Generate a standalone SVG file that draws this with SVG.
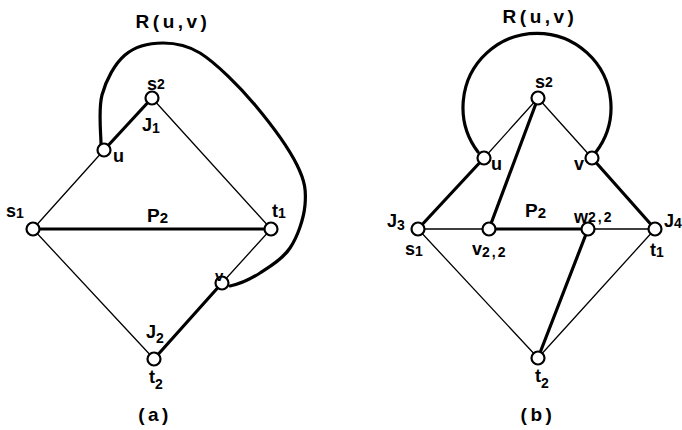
<svg xmlns="http://www.w3.org/2000/svg" width="682" height="430" viewBox="0 0 682 430">
<style>
.thin{stroke:#000;stroke-width:1.3;fill:none;stroke-linecap:round}
.thick{stroke:#000;stroke-width:3.2;fill:none;stroke-linecap:round}
.node{fill:#fff;stroke:#000;stroke-width:2.2}
text{font-family:"Liberation Sans",Arial,sans-serif;font-weight:bold;font-size:18px;fill:#000}
.big{font-size:19px;letter-spacing:3.5px}
.sub{font-size:14px}
.sp{letter-spacing:2px}
</style>
<rect width="682" height="430" fill="#fff"/>
<g id="connectors">
  <!-- (a) -->
  <line class="thin" x1="33" y1="229" x2="104" y2="150"/>
  <line class="thick" x1="104" y1="150" x2="152" y2="98"/>
  <line class="thin" x1="152" y1="98" x2="271" y2="229"/>
  <line class="thick" x1="33" y1="229" x2="271" y2="229"/>
  <line class="thin" x1="271" y1="229" x2="222" y2="283"/>
  <line class="thick" x1="222" y1="283" x2="154" y2="359"/>
  <line class="thin" x1="33" y1="229" x2="154" y2="359"/>
  <path class="thick" d="M101,145 C101.2,136.7 98,110 102,95 C106,80 114.8,63.7 125,55 C135.2,46.3 149.7,43 163,43 C176.3,43 187,45 200,53 C216,63 239.7,86.7 255,105 C270.3,123.3 288.7,148.3 297,165 C305.3,181.7 306.2,191.2 305,205 C303.8,218.8 297.5,236.7 290,248 C282.5,259.3 269.7,266.7 260,273 C250.3,279.3 240,284 230,286"/>
  <!-- (b) -->
  <line class="thin" x1="538" y1="98" x2="484" y2="158"/>
  <line class="thin" x1="538" y1="98" x2="592" y2="158"/>
  <line class="thick" x1="538" y1="98" x2="489" y2="229"/>
  <line class="thick" x1="418" y1="229" x2="484" y2="158"/>
  <line class="thick" x1="592" y1="158" x2="655" y2="229"/>
  <line class="thin" x1="418" y1="229" x2="489" y2="229"/>
  <line class="thick" x1="489" y1="229" x2="588" y2="229"/>
  <line class="thin" x1="588" y1="229" x2="655" y2="229"/>
  <line class="thick" x1="588" y1="229" x2="538" y2="358"/>
  <line class="thin" x1="418" y1="229" x2="538" y2="358"/>
  <line class="thin" x1="655" y1="229" x2="538" y2="358"/>
  <path class="thick" d="M478,152 A74,74 0 1 1 596,152"/>
</g>
<g id="a-s2"><circle class="node" cx="152" cy="98" r="6.5"/><text x="147" y="90">s<tspan class="sub" dy="-1">2</tspan></text></g>
<g id="a-u"><circle class="node" cx="104" cy="150" r="6.5"/><text x="113" y="162">u</text></g>
<g id="a-s1"><circle class="node" cx="33" cy="229" r="6.5"/><text x="6" y="217">s<tspan class="sub" dy="1">1</tspan></text></g>
<g id="a-t1"><circle class="node" cx="271" cy="229" r="6.5"/><text x="272" y="217">t<tspan class="sub" dy="1">1</tspan></text></g>
<g id="a-v"><circle class="node" cx="222" cy="283" r="6.5"/><text x="215" y="281" style="font-size:15px">v</text></g>
<g id="a-t2"><circle class="node" cx="154" cy="359" r="6.5"/><text x="149" y="383">t<tspan class="sub" dy="6">2</tspan></text></g>
<text x="142" y="131">J<tspan class="sub" dy="2">1</tspan></text>
<text x="146" y="338">J<tspan class="sub" dy="5">2</tspan></text>
<text x="147" y="222" style="font-size:19px">P<tspan class="sub" style="font-size:15px" dy="1">2</tspan></text>
<text x="173" y="28" class="big" text-anchor="middle">R(u,v)</text>
<text x="155" y="421" class="big" text-anchor="middle">(a)</text>
<g id="b-s2"><circle class="node" cx="538" cy="98" r="6.5"/><text x="535" y="88">s<tspan class="sub" dy="-1">2</tspan></text></g>
<g id="b-u"><circle class="node" cx="484" cy="158" r="6.5"/><text x="491" y="170">u</text></g>
<g id="b-v"><circle class="node" cx="592" cy="158" r="6.5"/><text x="574" y="170">v</text></g>
<g id="b-s1"><circle class="node" cx="418" cy="229" r="6.5"/><text x="405" y="255">s<tspan class="sub" dy="1">1</tspan></text><text x="387" y="227">J<tspan class="sub" dy="3">3</tspan></text></g>
<g id="b-v22"><circle class="node" cx="489" cy="229" r="6.5"/><text x="472" y="255">v<tspan class="sub sp" dy="2">2,2</tspan></text></g>
<g id="b-w22"><circle class="node" cx="588" cy="229" r="6.5"/><text x="574" y="223">w<tspan class="sub sp" dy="-1">2,2</tspan></text></g>
<g id="b-t1"><circle class="node" cx="655" cy="229" r="6.5"/><text x="650" y="256">t<tspan class="sub" dy="1">1</tspan></text><text x="664" y="227">J<tspan class="sub" dy="1">4</tspan></text></g>
<g id="b-t2"><circle class="node" cx="538" cy="358" r="6.5"/><text x="535" y="382">t<tspan class="sub" dy="6">2</tspan></text></g>
<text x="525" y="217" style="font-size:19px">P<tspan class="sub" style="font-size:15px" dy="1">2</tspan></text>
<text x="540" y="23" class="big" text-anchor="middle">R(u,v)</text>
<text x="538" y="421" class="big" text-anchor="middle">(b)</text>
</svg>
